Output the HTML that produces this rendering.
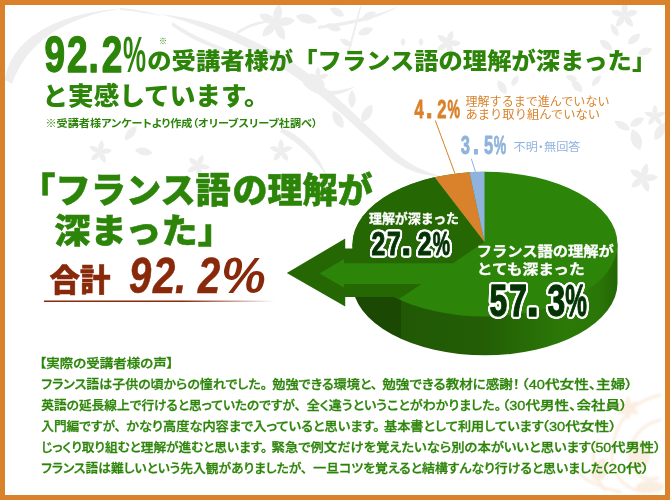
<!DOCTYPE html>
<html lang="ja">
<head>
<meta charset="utf-8">
<title>受講者様の声</title>
<style>
html,body{margin:0;padding:0;background:#fff;}
body{width:670px;height:500px;overflow:hidden;position:relative;font-family:"Liberation Sans","Noto Sans CJK JP",sans-serif;}
svg{position:absolute;left:0;top:0;display:block;}
text{font-family:"Liberation Sans","Noto Sans CJK JP",sans-serif;}
.g{fill:#2c8409;}
.h{font-weight:900;}
.n{font-weight:700;}
.b{font-weight:500;font-feature-settings:"palt";}
.m{font-weight:400;}
.w{fill:#fff;font-weight:700;}
.o{fill:#d9822b;}
.bl{fill:#8fb3dc;}
.br{fill:#88290a;}
</style>
</head>
<body>
<svg width="670" height="500" viewBox="0 0 670 500">
<defs>
<linearGradient id="wall" gradientUnits="userSpaceOnUse" x1="352" y1="0" x2="617" y2="0">
<stop offset="0" stop-color="#1b4803"/>
<stop offset="0.185" stop-color="#1b4803"/>
<stop offset="0.186" stop-color="#215805"/>
<stop offset="0.5" stop-color="#235e05"/>
<stop offset="0.8" stop-color="#2b7907"/>
<stop offset="0.93" stop-color="#2a7607"/>
<stop offset="1" stop-color="#246606"/>
</linearGradient>
<linearGradient id="ul" gradientUnits="userSpaceOnUse" x1="45" y1="0" x2="275" y2="0">
<stop offset="0" stop-color="#88290a"/>
<stop offset="0.6" stop-color="#88290a"/>
<stop offset="1" stop-color="#88290a" stop-opacity="0"/>
</linearGradient>
<filter id="ol" x="-10%" y="-20%" width="120%" height="140%" color-interpolation-filters="sRGB">
<feMorphology in="SourceAlpha" operator="dilate" radius="1.4" result="d"/>
<feGaussianBlur in="d" stdDeviation="1.1" result="b"/>
<feComponentTransfer in="b" result="t"><feFuncA type="linear" slope="8" intercept="-0.7"/></feComponentTransfer>
<feFlood flood-color="#ffffff"/><feComposite in2="t" operator="in" result="o"/>
<feMerge><feMergeNode in="o"/><feMergeNode in="SourceGraphic"/></feMerge>
</filter>
<filter id="soft" x="-10%" y="-10%" width="120%" height="120%"><feGaussianBlur stdDeviation="1.2"/></filter>
<clipPath id="topface"><ellipse cx="485" cy="244.2" rx="132.5" ry="72.4"/></clipPath>
</defs>
<rect x="0" y="0" width="670" height="500" fill="#d9822b"/>
<rect x="5" y="5" width="660" height="490" fill="#ffffff"/>

<clipPath id="inner"><rect x="5" y="5" width="660" height="490"/></clipPath><g clip-path="url(#inner)"><g fill="#eeeeee" stroke="none">
<path d="M5,80 C10,45 45,14 125,8 C60,17 25,46 12,84 Z"/>
<path d="M120,8 C135,9 150,12 162,16 C150,14 135,11 120,10 Z"/>
<path d="M160,14 C205,18 255,38 295,64 C330,88 360,120 395,152 C410,165 425,172 440,176 C420,176 405,170 388,156 C350,122 322,94 288,72 C250,46 205,26 160,14 Z"/>
<path d="M172,22 C200,40 230,52 262,60 C232,56 200,46 172,26 Z"/>
<path d="M236,32 C250,22 262,20 272,22 C262,23 250,26 238,34 Z"/>
<path d="M305,80 C320,95 338,92 356,86 C338,98 318,100 303,84 Z"/>
<path d="M282,128 C300,135 318,152 328,178 C314,158 300,144 280,132 Z"/>
<path d="M318,26 C350,22 380,14 400,6 C380,18 350,26 318,29 Z"/>
<path d="M348,50 C352,35 356,20 360,6 L361.500,6 C358,20 354,36 350,50 Z"/>
<path transform="translate(276,23) rotate(10)" d="M0,0 C5.7,-4.8 5.7,-13.3 0,-19 C-5.7,-13.3 -5.7,-4.8 0,0Z"/><path transform="translate(276,23) rotate(82)" d="M0,0 C5.7,-4.8 5.7,-13.3 0,-19 C-5.7,-13.3 -5.7,-4.8 0,0Z"/><path transform="translate(276,23) rotate(154)" d="M0,0 C5.7,-4.8 5.7,-13.3 0,-19 C-5.7,-13.3 -5.7,-4.8 0,0Z"/><path transform="translate(276,23) rotate(226)" d="M0,0 C5.7,-4.8 5.7,-13.3 0,-19 C-5.7,-13.3 -5.7,-4.8 0,0Z"/><path transform="translate(276,23) rotate(298)" d="M0,0 C5.7,-4.8 5.7,-13.3 0,-19 C-5.7,-13.3 -5.7,-4.8 0,0Z"/>
<path transform="translate(624.5,15.5) rotate(0)" d="M0,0 C4.2,-3.5 4.2,-9.8 0,-14 C-4.2,-9.8 -4.2,-3.5 0,0Z"/><path transform="translate(624.5,15.5) rotate(72)" d="M0,0 C4.2,-3.5 4.2,-9.8 0,-14 C-4.2,-9.8 -4.2,-3.5 0,0Z"/><path transform="translate(624.5,15.5) rotate(144)" d="M0,0 C4.2,-3.5 4.2,-9.8 0,-14 C-4.2,-9.8 -4.2,-3.5 0,0Z"/><path transform="translate(624.5,15.5) rotate(216)" d="M0,0 C4.2,-3.5 4.2,-9.8 0,-14 C-4.2,-9.8 -4.2,-3.5 0,0Z"/><path transform="translate(624.5,15.5) rotate(288)" d="M0,0 C4.2,-3.5 4.2,-9.8 0,-14 C-4.2,-9.8 -4.2,-3.5 0,0Z"/>
<path transform="translate(448,43) rotate(20)" d="M0,0 C3.9,-3.2 3.9,-9.1 0,-13 C-3.9,-9.1 -3.9,-3.2 0,0Z"/><path transform="translate(448,43) rotate(92)" d="M0,0 C3.9,-3.2 3.9,-9.1 0,-13 C-3.9,-9.1 -3.9,-3.2 0,0Z"/><path transform="translate(448,43) rotate(164)" d="M0,0 C3.9,-3.2 3.9,-9.1 0,-13 C-3.9,-9.1 -3.9,-3.2 0,0Z"/><path transform="translate(448,43) rotate(236)" d="M0,0 C3.9,-3.2 3.9,-9.1 0,-13 C-3.9,-9.1 -3.9,-3.2 0,0Z"/><path transform="translate(448,43) rotate(308)" d="M0,0 C3.9,-3.2 3.9,-9.1 0,-13 C-3.9,-9.1 -3.9,-3.2 0,0Z"/>
<path transform="translate(643,178) rotate(15)" d="M0,0 C4.5,-3.8 4.5,-10.5 0,-15 C-4.5,-10.5 -4.5,-3.8 0,0Z"/><path transform="translate(643,178) rotate(87)" d="M0,0 C4.5,-3.8 4.5,-10.5 0,-15 C-4.5,-10.5 -4.5,-3.8 0,0Z"/><path transform="translate(643,178) rotate(159)" d="M0,0 C4.5,-3.8 4.5,-10.5 0,-15 C-4.5,-10.5 -4.5,-3.8 0,0Z"/><path transform="translate(643,178) rotate(231)" d="M0,0 C4.5,-3.8 4.5,-10.5 0,-15 C-4.5,-10.5 -4.5,-3.8 0,0Z"/><path transform="translate(643,178) rotate(303)" d="M0,0 C4.5,-3.8 4.5,-10.5 0,-15 C-4.5,-10.5 -4.5,-3.8 0,0Z"/>
<path transform="translate(281,151) rotate(0)" d="M0,0 C3.5999999999999996,-3.0 3.5999999999999996,-8.4 0,-12 C-3.5999999999999996,-8.4 -3.5999999999999996,-3.0 0,0Z"/><path transform="translate(281,151) rotate(72)" d="M0,0 C3.5999999999999996,-3.0 3.5999999999999996,-8.4 0,-12 C-3.5999999999999996,-8.4 -3.5999999999999996,-3.0 0,0Z"/><path transform="translate(281,151) rotate(144)" d="M0,0 C3.5999999999999996,-3.0 3.5999999999999996,-8.4 0,-12 C-3.5999999999999996,-8.4 -3.5999999999999996,-3.0 0,0Z"/><path transform="translate(281,151) rotate(216)" d="M0,0 C3.5999999999999996,-3.0 3.5999999999999996,-8.4 0,-12 C-3.5999999999999996,-8.4 -3.5999999999999996,-3.0 0,0Z"/><path transform="translate(281,151) rotate(288)" d="M0,0 C3.5999999999999996,-3.0 3.5999999999999996,-8.4 0,-12 C-3.5999999999999996,-8.4 -3.5999999999999996,-3.0 0,0Z"/>
<path transform="translate(100,152) rotate(10)" d="M0,0 C3.5999999999999996,-3.0 3.5999999999999996,-8.4 0,-12 C-3.5999999999999996,-8.4 -3.5999999999999996,-3.0 0,0Z"/><path transform="translate(100,152) rotate(82)" d="M0,0 C3.5999999999999996,-3.0 3.5999999999999996,-8.4 0,-12 C-3.5999999999999996,-8.4 -3.5999999999999996,-3.0 0,0Z"/><path transform="translate(100,152) rotate(154)" d="M0,0 C3.5999999999999996,-3.0 3.5999999999999996,-8.4 0,-12 C-3.5999999999999996,-8.4 -3.5999999999999996,-3.0 0,0Z"/><path transform="translate(100,152) rotate(226)" d="M0,0 C3.5999999999999996,-3.0 3.5999999999999996,-8.4 0,-12 C-3.5999999999999996,-8.4 -3.5999999999999996,-3.0 0,0Z"/><path transform="translate(100,152) rotate(298)" d="M0,0 C3.5999999999999996,-3.0 3.5999999999999996,-8.4 0,-12 C-3.5999999999999996,-8.4 -3.5999999999999996,-3.0 0,0Z"/>
<path transform="translate(198,166) rotate(25)" d="M0,0 C3.5999999999999996,-3.0 3.5999999999999996,-8.4 0,-12 C-3.5999999999999996,-8.4 -3.5999999999999996,-3.0 0,0Z"/><path transform="translate(198,166) rotate(97)" d="M0,0 C3.5999999999999996,-3.0 3.5999999999999996,-8.4 0,-12 C-3.5999999999999996,-8.4 -3.5999999999999996,-3.0 0,0Z"/><path transform="translate(198,166) rotate(169)" d="M0,0 C3.5999999999999996,-3.0 3.5999999999999996,-8.4 0,-12 C-3.5999999999999996,-8.4 -3.5999999999999996,-3.0 0,0Z"/><path transform="translate(198,166) rotate(241)" d="M0,0 C3.5999999999999996,-3.0 3.5999999999999996,-8.4 0,-12 C-3.5999999999999996,-8.4 -3.5999999999999996,-3.0 0,0Z"/><path transform="translate(198,166) rotate(313)" d="M0,0 C3.5999999999999996,-3.0 3.5999999999999996,-8.4 0,-12 C-3.5999999999999996,-8.4 -3.5999999999999996,-3.0 0,0Z"/>
<path transform="translate(655,116) rotate(0)" d="M0,0 C3.3,-2.8 3.3,-7.7 0,-11 C-3.3,-7.7 -3.3,-2.8 0,0Z"/><path transform="translate(655,116) rotate(72)" d="M0,0 C3.3,-2.8 3.3,-7.7 0,-11 C-3.3,-7.7 -3.3,-2.8 0,0Z"/><path transform="translate(655,116) rotate(144)" d="M0,0 C3.3,-2.8 3.3,-7.7 0,-11 C-3.3,-7.7 -3.3,-2.8 0,0Z"/><path transform="translate(655,116) rotate(216)" d="M0,0 C3.3,-2.8 3.3,-7.7 0,-11 C-3.3,-7.7 -3.3,-2.8 0,0Z"/><path transform="translate(655,116) rotate(288)" d="M0,0 C3.3,-2.8 3.3,-7.7 0,-11 C-3.3,-7.7 -3.3,-2.8 0,0Z"/>
<path transform="translate(318,78) rotate(0)" d="M0,0 C3.3,-2.8 3.3,-7.7 0,-11 C-3.3,-7.7 -3.3,-2.8 0,0Z"/><path transform="translate(318,78) rotate(72)" d="M0,0 C3.3,-2.8 3.3,-7.7 0,-11 C-3.3,-7.7 -3.3,-2.8 0,0Z"/><path transform="translate(318,78) rotate(144)" d="M0,0 C3.3,-2.8 3.3,-7.7 0,-11 C-3.3,-7.7 -3.3,-2.8 0,0Z"/><path transform="translate(318,78) rotate(216)" d="M0,0 C3.3,-2.8 3.3,-7.7 0,-11 C-3.3,-7.7 -3.3,-2.8 0,0Z"/><path transform="translate(318,78) rotate(288)" d="M0,0 C3.3,-2.8 3.3,-7.7 0,-11 C-3.3,-7.7 -3.3,-2.8 0,0Z"/>
<path transform="translate(296,16) rotate(105)" d="M0,0 C6,-5.5 6,-15.4 0,-22 C-6,-15.4 -6,-5.5 0,0Z"/>
<path transform="translate(344,16) rotate(-60)" d="M0,0 C5,-4.0 5,-11.2 0,-16 C-5,-11.2 -5,-4.0 0,0Z"/>
<path transform="translate(341,30) rotate(-70)" d="M0,0 C5,-4.0 5,-11.2 0,-16 C-5,-11.2 -5,-4.0 0,0Z"/>
<path transform="translate(362,20) rotate(60)" d="M0,0 C5,-4.0 5,-11.2 0,-16 C-5,-11.2 -5,-4.0 0,0Z"/>
<path transform="translate(358,34) rotate(70)" d="M0,0 C5,-4.0 5,-11.2 0,-16 C-5,-11.2 -5,-4.0 0,0Z"/>
<path transform="translate(352,46) rotate(-60)" d="M0,0 C4,-3.5 4,-9.8 0,-14 C-4,-9.8 -4,-3.5 0,0Z"/>
<path transform="translate(343,128) rotate(-30)" d="M0,0 C6,-5.0 6,-14.0 0,-20 C-6,-14.0 -6,-5.0 0,0Z"/>
<path transform="translate(362,122) rotate(30)" d="M0,0 C6,-5.0 6,-14.0 0,-20 C-6,-14.0 -6,-5.0 0,0Z"/>
<path transform="translate(352,108) rotate(0)" d="M0,0 C5,-4.5 5,-12.6 0,-18 C-5,-12.6 -5,-4.5 0,0Z"/>
<path transform="translate(612,50) rotate(-50)" d="M0,0 C5,-4.0 5,-11.2 0,-16 C-5,-11.2 -5,-4.0 0,0Z"/>
<path transform="translate(628,44) rotate(50)" d="M0,0 C5,-4.0 5,-11.2 0,-16 C-5,-11.2 -5,-4.0 0,0Z"/>
<path transform="translate(618,36) rotate(-30)" d="M0,0 C4,-3.5 4,-9.8 0,-14 C-4,-9.8 -4,-3.5 0,0Z"/>
<path transform="translate(638,54) rotate(70)" d="M0,0 C5,-3.8 5,-10.5 0,-15 C-5,-10.5 -5,-3.8 0,0Z"/>
<path transform="translate(582,92) rotate(-40)" d="M0,0 C5,-4.0 5,-11.2 0,-16 C-5,-11.2 -5,-4.0 0,0Z"/>
<path transform="translate(592,86) rotate(40)" d="M0,0 C4,-3.5 4,-9.8 0,-14 C-4,-9.8 -4,-3.5 0,0Z"/>
<path transform="translate(577,80) rotate(-70)" d="M0,0 C4,-3.0 4,-8.4 0,-12 C-4,-8.4 -4,-3.0 0,0Z"/>
<path transform="translate(506,94) rotate(-30)" d="M0,0 C5,-4.0 5,-11.2 0,-16 C-5,-11.2 -5,-4.0 0,0Z"/>
<path transform="translate(512,86) rotate(30)" d="M0,0 C4,-3.0 4,-8.4 0,-12 C-4,-8.4 -4,-3.0 0,0Z"/>
<path transform="translate(630,126) rotate(60)" d="M0,0 C5,-4.0 5,-11.2 0,-16 C-5,-11.2 -5,-4.0 0,0Z"/>
<path transform="translate(640,150) rotate(-20)" d="M0,0 C7,-5.5 7,-15.4 0,-22 C-7,-15.4 -7,-5.5 0,0Z"/>
<path transform="translate(655,140) rotate(30)" d="M0,0 C6,-5.0 6,-14.0 0,-20 C-6,-14.0 -6,-5.0 0,0Z"/>
<path transform="translate(630,130) rotate(-60)" d="M0,0 C5,-4.5 5,-12.6 0,-18 C-5,-12.6 -5,-4.5 0,0Z"/>
<path transform="translate(125,140) rotate(40)" d="M0,0 C5,-4.5 5,-12.6 0,-18 C-5,-12.6 -5,-4.5 0,0Z"/>
<path transform="translate(135,150) rotate(100)" d="M0,0 C5,-4.5 5,-12.6 0,-18 C-5,-12.6 -5,-4.5 0,0Z"/>
<path transform="translate(403,46) rotate(0)" d="M0,0 C3,-2.0 3,-5.6 0,-8 C-3,-5.6 -3,-2.0 0,0Z"/>
<path transform="translate(421,46) rotate(0)" d="M0,0 C3,-2.0 3,-5.6 0,-8 C-3,-5.6 -3,-2.0 0,0Z"/>
</g>
<g filter="url(#soft)">
<g fill="none" stroke="#faeee2" stroke-width="3" stroke-linecap="round">
<path d="M660,395 C635,400 615,420 612,450 C610,475 625,490 645,492"/>
<path d="M660,420 C640,425 628,440 630,460 C632,475 645,482 658,478"/>
<path d="M598,440 C590,455 592,475 605,490"/>
<path d="M575,470 C585,480 600,488 620,492"/>
</g>
<g fill="#faeee2">
<path transform="translate(628,408) rotate(0)" d="M0,0 C3.5999999999999996,-3.0 3.5999999999999996,-8.4 0,-12 C-3.5999999999999996,-8.4 -3.5999999999999996,-3.0 0,0Z"/><path transform="translate(628,408) rotate(60)" d="M0,0 C3.5999999999999996,-3.0 3.5999999999999996,-8.4 0,-12 C-3.5999999999999996,-8.4 -3.5999999999999996,-3.0 0,0Z"/><path transform="translate(628,408) rotate(120)" d="M0,0 C3.5999999999999996,-3.0 3.5999999999999996,-8.4 0,-12 C-3.5999999999999996,-8.4 -3.5999999999999996,-3.0 0,0Z"/><path transform="translate(628,408) rotate(180)" d="M0,0 C3.5999999999999996,-3.0 3.5999999999999996,-8.4 0,-12 C-3.5999999999999996,-8.4 -3.5999999999999996,-3.0 0,0Z"/><path transform="translate(628,408) rotate(240)" d="M0,0 C3.5999999999999996,-3.0 3.5999999999999996,-8.4 0,-12 C-3.5999999999999996,-8.4 -3.5999999999999996,-3.0 0,0Z"/><path transform="translate(628,408) rotate(300)" d="M0,0 C3.5999999999999996,-3.0 3.5999999999999996,-8.4 0,-12 C-3.5999999999999996,-8.4 -3.5999999999999996,-3.0 0,0Z"/>
<ellipse cx="640" cy="455" rx="10" ry="14"/>
<ellipse cx="600" cy="470" rx="8" ry="12" transform="rotate(30 600 470)"/>
<ellipse cx="650" cy="487" rx="14" ry="6"/>
</g>
</g></g>

<g id="pie">
<path d="M352.5,244.2 L352.5,282.9 A132.5,72.4 0 0 0 617.5,282.9 L617.5,244.2 Z" fill="url(#wall)"/>
<ellipse cx="485" cy="244.2" rx="132.5" ry="72.4" fill="#2c8409"/>
<g clip-path="url(#topface)">
<path d="M484.5,242 L401.6,297 L340,337.9 L340,160 L434.9,160 L434.9,177.5 Z" fill="#256703"/>
<path d="M484.5,242 L434.9,177.5 L430,160 L469.6,160 L469.6,173 Z" fill="#d9822b"/>
<path d="M484.5,242 L469.6,173 L469.6,160 L484.5,160 Z" fill="#8fb3dc"/>
</g>
<path d="M286.8,273 L345.2,238.5 L345.2,248.4 L420,248.4 L470,251.6 L401.6,297 L345.2,297 L345.2,306.6 Z" fill="#256703"/>
<path d="M319.5,273.5 L344.1,258.9 L344.1,263.2 L455,263.2 L423.5,284.1 L344.1,284.1 L344.1,287.8 Z" fill="#2c8409"/>
</g>
<path d="M435.3,120.5 L455,173.7" stroke="#d9822b" stroke-width="1" fill="none"/>
<path d="M471.3,158.7 L475.6,172.5" stroke="#8fb3dc" stroke-width="1" fill="none"/>

<text class="w" x="369" y="223.4" font-size="13" stroke="#fff" stroke-width="0.3" textLength="90" lengthAdjust="spacingAndGlyphs">理解が深まった</text>
<g filter="url(#ol)"><g transform="translate(0,255.3) scale(0.74,1)" font-size="33.5" font-weight="700" fill="#043404" stroke="#043404" stroke-width="1.1" stroke-linejoin="round"><text x="511.49 532.43 549.05 573.92 596.62" y="0" text-anchor="middle">27<tspan textLength="13.52" lengthAdjust="spacingAndGlyphs" font-size="40">.</tspan>2<tspan textLength="23.34" lengthAdjust="spacingAndGlyphs">%</tspan></text></g></g>
<text class="w" x="476.7" y="256" font-size="14" stroke="#fff" stroke-width="0.3" textLength="137" lengthAdjust="spacingAndGlyphs">フランス語の理解が</text>
<text class="w" x="476.7" y="274" font-size="14" stroke="#fff" stroke-width="0.3" textLength="108" lengthAdjust="spacingAndGlyphs">とても深まった</text>
<g filter="url(#ol)"><g transform="translate(0,316.1) scale(0.72,1)" font-size="44.2" font-weight="700" fill="#043404" stroke="#043404" stroke-width="1.3" stroke-linejoin="round"><text x="692.22 719.72 740.00 772.64 800.00" y="0" text-anchor="middle">57<tspan textLength="18.07" lengthAdjust="spacingAndGlyphs" font-size="52">.</tspan>3<tspan textLength="30.02" lengthAdjust="spacingAndGlyphs">%</tspan></text></g></g>
<g transform="translate(0,118) scale(0.65,1)" font-size="25.5" font-weight="700" fill="#d9822b" stroke="#d9822b" stroke-width="0.8" stroke-linejoin="round"><text x="644.62 660.31 679.85 698.15" y="0" text-anchor="middle">4<tspan textLength="10.61" lengthAdjust="spacingAndGlyphs" font-size="31">.</tspan>2<tspan textLength="19.18" lengthAdjust="spacingAndGlyphs">%</tspan></text></g>
<g transform="translate(0,154.3) scale(0.65,1)" font-size="25.5" font-weight="700" fill="#8fb3dc" stroke="#8fb3dc" stroke-width="0.8" stroke-linejoin="round"><text x="715.85 732.15 751.54 769.23" y="0" text-anchor="middle">3<tspan textLength="10.61" lengthAdjust="spacingAndGlyphs" font-size="31">.</tspan>5<tspan textLength="19.18" lengthAdjust="spacingAndGlyphs">%</tspan></text></g>

<text class="o m" x="465.5" y="106.3" font-size="12" textLength="144" lengthAdjust="spacingAndGlyphs">理解するまで進んでいない</text>
<text class="o m" x="465.5" y="119.3" font-size="12" textLength="134.5" lengthAdjust="spacingAndGlyphs">あまり取り組んでいない</text>
<text class="bl m" style="font-feature-settings:'palt'" x="513.5" y="151" font-size="11.5" textLength="67" lengthAdjust="spacingAndGlyphs">不明・無回答</text>

<g transform="translate(0,72) scale(0.74,1)" font-size="50" font-weight="700" fill="#2c8409" stroke="#2c8409" stroke-width="1.4" stroke-linejoin="round"><text x="74.05 104.32 126.62 151.49 181.76" y="0" text-anchor="middle">92.2<tspan textLength="31.24" lengthAdjust="spacingAndGlyphs" stroke-width="0">%</tspan></text></g>

<text class="g b" style="font-weight:700" x="158.9" y="44" font-size="8">※</text>
<text class="g h" y="69.4" font-size="22.5"><tspan x="147.3" textLength="145.8" lengthAdjust="spacingAndGlyphs">の受講者様が</tspan><tspan x="293.3" textLength="362.9" lengthAdjust="spacingAndGlyphs">「フランス語の理解が深まった」</tspan></text>
<text class="g h" x="42.4" y="104.5" font-size="25" textLength="227.3" lengthAdjust="spacingAndGlyphs">と実感しています。</text>
<text class="g b" style="font-weight:700" x="45.5" y="127" font-size="10.5" textLength="272" lengthAdjust="spacingAndGlyphs">※受講者様アンケートより作成（オリーブスリーブ社調べ）</text>

<text class="g h" stroke="#2c8409" stroke-width="0.5" y="203" font-size="35"><tspan x="20.3" textLength="210.5" lengthAdjust="spacingAndGlyphs">「フランス語</tspan><tspan x="232.4" textLength="140.3" lengthAdjust="spacingAndGlyphs">の理解が</tspan></text>
<text class="g h" stroke="#2c8409" stroke-width="0.5" x="54.3" y="243" font-size="34.5" textLength="179.7" lengthAdjust="spacingAndGlyphs">深まった」</text>
<text class="br h" stroke="#88290a" stroke-width="0.5" x="49.5" y="291" font-size="31" textLength="61" lengthAdjust="spacingAndGlyphs">合計</text>

<g transform="translate(0,292.5) scale(0.8,1)" font-size="50" font-weight="700" font-style="italic" fill="#88290a" stroke="#88290a" stroke-width="0.6" stroke-linejoin="round"><text x="175.25 205.25 225.62 261.50 304.38" y="0" text-anchor="middle">92.2<tspan textLength="55.56" lengthAdjust="spacingAndGlyphs" stroke-width="0">%</tspan></text></g>

<rect x="44" y="300.5" width="231" height="1.5" fill="url(#ul)"/>


<g class="g b" font-size="12.4" stroke="#2c8409" stroke-width="0.3"><text y="367.6"><tspan x="39.4" textLength="134.0" lengthAdjust="spacingAndGlyphs">【実際の受講者様の声】</tspan></text>
<text y="388.6"><tspan x="41.3" textLength="225.9" lengthAdjust="spacingAndGlyphs">フランス語は子供の頃からの憧れでした。</tspan><tspan x="272.3" textLength="105.1" lengthAdjust="spacingAndGlyphs">勉強できる環境と、</tspan><tspan x="382.3" textLength="137.4" lengthAdjust="spacingAndGlyphs">勉強できる教材に感謝！</tspan><tspan x="521.4" textLength="111.2" lengthAdjust="spacingAndGlyphs">（40代女性、主婦）</tspan></text>
<text y="409.6"><tspan x="41.3" textLength="259.6" lengthAdjust="spacingAndGlyphs">英語の延長線上で行けると思っていたのですが、</tspan><tspan x="306.8" textLength="194.2" lengthAdjust="spacingAndGlyphs">全く違うということがわかりました。</tspan><tspan x="502.0" textLength="125.4" lengthAdjust="spacingAndGlyphs">（30代男性、会社員）</tspan></text>
<text y="430.6"><tspan x="41.3" textLength="79.6" lengthAdjust="spacingAndGlyphs">入門編ですが、</tspan><tspan x="126.1" textLength="253.7" lengthAdjust="spacingAndGlyphs">かなり高度な内容まで入っていると思います。</tspan><tspan x="384.0" textLength="159.6" lengthAdjust="spacingAndGlyphs">基本書として利用しています</tspan><tspan x="541.6" textLength="74.9" lengthAdjust="spacingAndGlyphs">（30代女性）</tspan></text>
<text y="451.6"><tspan x="41.3" textLength="225.9" lengthAdjust="spacingAndGlyphs">じっくり取り組むと理解が進むと思います。</tspan><tspan x="271.6" textLength="319.3" lengthAdjust="spacingAndGlyphs">緊急で例文だけを覚えたいなら別の本がいいと思います</tspan><tspan x="588.3" textLength="72.9" lengthAdjust="spacingAndGlyphs">（50代男性）</tspan></text>
<text y="472.6"><tspan x="41.3" textLength="266.0" lengthAdjust="spacingAndGlyphs">フランス語は難しいという先入観がありましたが、</tspan><tspan x="313.3" textLength="289.9" lengthAdjust="spacingAndGlyphs">一旦コツを覚えると結構すんなり行けると思いました</tspan><tspan x="600.8" textLength="48.7" lengthAdjust="spacingAndGlyphs">（20代）</tspan></text></g>

</svg>
</body>
</html>
